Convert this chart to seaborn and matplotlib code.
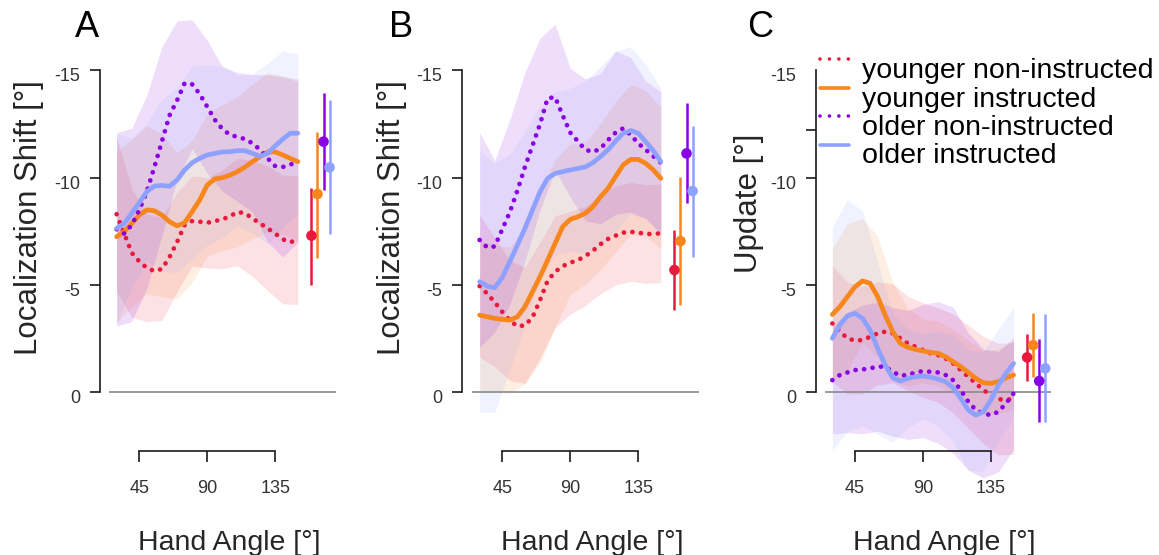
import numpy as np
import matplotlib
matplotlib.use("Agg")
import matplotlib.pyplot as plt
import matplotlib.transforms as mtransforms
import seaborn as sns

# ---------------- data ----------------
angles = list(range(30, 155, 5))          # hand angles of the smoothed curves
band_angles = list(range(30, 155, 10))    # hand angles of the confidence bands
groups = ["younger non-instructed", "younger instructed",
          "older non-instructed", "older instructed"]
colors = ["#E8193C", "#F7861C", "#8A00E6", "#8FA1FF"]
dotted = [True, False, True, False]
dot_angles = [159, 163, 167, 171]
y_ticks = [-15, -10, -5, 0]
y_ticklabels = ["-15", "-10", "-5", "0"]
x_ticks = [45, 90, 135]
x_ticklabels = ["45", "90", "135"]

# Panel A : Localization shift (mean curves)
A_yn = [-8.3, -7.4, -6.5, -6.1, -5.8, -5.65, -5.75, -6.3, -7.0, -7.8, -7.98, -7.95, -7.9,
        -7.98, -8.06, -8.2, -8.4, -8.35, -8.1, -7.87, -7.64, -7.4, -7.13, -7.0, -7.1]
A_yi = [-7.25, -7.48, -7.87, -8.26, -8.5, -8.46, -8.26, -7.95, -7.76, -7.9, -8.42, -8.96, -9.66,
        -9.94, -10.0, -10.12, -10.28, -10.5, -10.75, -10.98, -11.2, -11.2, -11.06, -10.9, -10.75]
A_on = [-7.6, -7.4, -7.8, -8.5, -9.35, -10.5, -11.7, -12.9, -13.6, -14.4, -14.35, -13.9, -13.3,
        -12.7, -12.27, -12.0, -11.9, -11.8, -11.6, -11.3, -10.9, -10.54, -10.5, -10.6, -10.8]
A_oi = [-7.64, -7.87, -8.34, -8.84, -9.35, -9.61, -9.64, -9.6, -9.89, -10.36, -10.7, -10.9, -11.06,
        -11.13, -11.2, -11.21, -11.26, -11.26, -11.13, -11.0, -11.13, -11.48, -11.8, -12.07, -12.07]
# band half widths
A_yn_ci = [3.6, 3.0, 2.5, 2.4, 2.3, 2.1, 2.1, 2.3, 2.5, 2.7, 2.9, 3.0, 3.0]
A_yi_ci = [4.0, 3.9, 3.9, 3.8, 3.4, 3.3, 3.3, 3.4, 3.5, 3.6, 3.7, 3.7, 3.7]
A_on_ci = [4.5, 4.5, 4.5, 4.4, 3.7, 3.0, 3.1, 2.9, 3.0, 3.2, 3.9, 4.2, 3.8]
A_oi_ci = [4.4, 3.5, 3.2, 4.0, 4.3, 4.5, 4.2, 4.0, 3.5, 3.7, 4.2, 4.1, 3.7]
# overall means with intervals
A_pt = [-7.3, -9.24, -11.68, -10.48]
A_pt_lo = [-9.5, -12.14, -13.93, -13.6]
A_pt_hi = [-5.0, -6.26, -9.43, -7.38]

# Panel B : Localization shift
B_yn = [-4.95, -4.6, -4.2, -3.75, -3.35, -3.08, -3.12, -3.5, -4.3, -5.2, -5.62, -5.88, -6.04,
        -6.16, -6.35, -6.6, -6.9, -7.15, -7.3, -7.44, -7.48, -7.44, -7.38, -7.38, -7.41]
B_yi = [-3.6, -3.52, -3.45, -3.4, -3.37, -3.52, -3.99, -4.69, -5.39, -6.16, -6.94, -7.72, -8.06,
        -8.18, -8.34, -8.65, -9.11, -9.5, -10.05, -10.59, -10.85, -10.85, -10.67, -10.36, -9.97]
B_on = [-7.1, -6.75, -6.8, -7.6, -8.4, -9.4, -10.5, -11.5, -12.5, -13.7, -13.75, -12.9, -12.1,
        -11.7, -11.3, -11.2, -11.35, -11.75, -12.1, -12.3, -12.0, -11.6, -11.3, -11.0, -10.7]
B_oi = [-5.16, -4.95, -4.88, -5.35, -6.1, -6.86, -7.64, -8.5, -9.35, -9.97, -10.2, -10.28, -10.36,
        -10.43, -10.5, -10.7, -10.98, -11.3, -11.7, -12.07, -12.2, -12.07, -11.68, -11.26, -10.75]
B_yn_ci = [3.3, 3.0, 2.8, 2.7, 2.7, 2.6, 2.4, 2.3, 2.3, 2.3, 2.3, 2.3, 2.3]
B_yi_ci = [3.5, 3.4, 3.4, 3.6, 4.0, 3.9, 3.5, 3.3, 3.4, 3.5, 3.5, 3.4, 3.3]
B_on_ci = [5.0, 4.0, 4.3, 4.4, 4.0, 3.4, 3.0, 3.3, 3.5, 3.8, 3.6, 3.2, 3.3]
B_oi_ci = [6.1, 5.8, 5.0, 4.5, 4.0, 3.8, 3.8, 4.0, 4.2, 4.2, 3.9, 3.6, 3.4]
B_pt = [-5.7, -7.05, -11.13, -9.38]
B_pt_lo = [-7.56, -10.05, -13.5, -12.4]
B_pt_hi = [-3.84, -4.07, -8.8, -6.32]

# Panel C : Update
C_yn = [-3.21, -2.83, -2.52, -2.41, -2.44, -2.59, -2.75, -2.83, -2.75, -2.52, -2.28, -2.13, -1.97,
        -1.82, -1.74, -1.58, -1.35, -1.04, -0.73, -0.42, -0.11, 0.12, 0.31, 0.36, 0.28]
C_yi = [-3.63, -3.99, -4.46, -4.92, -5.19, -5.08, -4.46, -3.6, -2.83, -2.28, -2.1, -2.0, -1.93,
        -1.86, -1.82, -1.66, -1.43, -1.2, -0.93, -0.65, -0.45, -0.42, -0.5, -0.68, -0.81]
C_on = [-0.57, -0.81, -0.93, -1.04, -1.07, -1.12, -1.2, -1.2, -0.96, -0.78, -0.81, -0.93, -0.99,
        -0.96, -0.93, -0.81, -0.57, -0.11, 0.43, 0.82, 0.98, 1.06, 0.9, 0.51, 0.05]
C_oi = [-2.52, -3.14, -3.57, -3.68, -3.45, -2.9, -2.05, -1.27, -0.68, -0.53, -0.65, -0.73, -0.76,
        -0.71, -0.62, -0.5, -0.22, 0.28, 0.82, 1.06, 0.9, 0.36, -0.34, -0.89, -1.35]
C_yn_ci = [2.7, 2.6, 2.5, 2.4, 2.3, 2.2, 2.2, 2.2, 2.3, 2.4, 2.5, 2.6, 2.6]
C_yi_ci = [3.1, 3.4, 2.9, 2.8, 2.3, 1.8, 1.5, 1.5, 1.5, 1.5, 1.5, 1.5, 1.6]
C_on_ci = [2.5, 2.8, 3.0, 3.0, 3.0, 3.0, 3.1, 3.3, 3.4, 3.2, 3.0, 2.8, 2.6]
C_oi_ci = [5.2, 5.4, 5.0, 4.0, 3.0, 2.3, 2.0, 2.2, 2.5, 2.8, 2.8, 2.6, 2.6]
C_pt = [-1.63, -2.2, -0.53, -1.12]
C_pt_lo = [-2.7, -3.68, -2.48, -3.63]
C_pt_hi = [-0.53, -0.73, 1.4, 1.4]

# ---------------- style ----------------
sns.set_theme(style="white")
plt.rcParams["font.family"] = ["Liberation Sans", "DejaVu Sans"]

W, H = 1159, 555
fig = plt.figure(figsize=(W / 100, H / 100), dpi=100)
fig.patch.set_facecolor("white")

PXPU = 21.47      # pixels per y unit
Y0 = 392.4        # pixel row of y = 0
SX = 1.51         # pixels per degree
AX_TOP, AX_BOT = 5, 500

INK = "#1a1a1a"
DOT_STYLE = (0, (0.01, 1.8))


def add_panel(x45_px, spine_px):
    left = x45_px - 55
    ax = fig.add_axes([left / W, 1 - AX_BOT / H, 270 / W, (AX_BOT - AX_TOP) / H])
    ax.set_xlim(45 - 55 / SX, 45 + 215 / SX)
    ax.set_ylim((AX_BOT - Y0) / PXPU, (AX_TOP - Y0) / PXPU)
    ax.set_facecolor("none")
    ax.patch.set_alpha(0)
    for s in ["top", "right"]:
        ax.spines[s].set_visible(False)
    ax.spines["left"].set_position(("data", 45 + (spine_px - x45_px) / SX))
    ax.spines["left"].set_bounds(-15, 0)
    ax.spines["bottom"].set_position(("data", (451 - Y0) / PXPU))
    ax.spines["bottom"].set_bounds(45, 135)
    for s in ["left", "bottom"]:
        ax.spines[s].set_color(INK)
        ax.spines[s].set_linewidth(1.2)
    ax.set_yticks(y_ticks)
    ax.set_yticklabels(y_ticklabels)
    ax.set_xticks(x_ticks)
    ax.set_xticklabels(x_ticklabels)
    ax.tick_params(axis="y", direction="out", length=7.2, width=1.2, color=INK,
                   pad=7, labelsize=13, labelcolor="#333333", left=True)
    ax.tick_params(axis="x", direction="out", length=8, width=1.2, color=INK,
                   pad=13, labelsize=13, labelcolor="#333333", bottom=True)
    off = mtransforms.ScaledTranslation(0, -0.045, fig.dpi_scale_trans)
    for lab in ax.get_yticklabels():
        lab.set_transform(lab.get_transform() + off)
    ax.grid(False)
    return ax


def draw(ax, means, cis, pt, pt_lo, pt_hi):
    for i in range(4):
        m = np.array(means[i])[::2]
        hw = np.array(cis[i])
        ax.fill_between(band_angles, m - hw, m + hw, color=colors[i], alpha=0.13, lw=0)
    ax.hlines(0, 25, 175, color="#8a8a8a", lw=1.2)
    for i in range(4):
        sns.lineplot(x=angles, y=means[i], ax=ax, color=colors[i], lw=3.4, legend=False)
        ln = ax.lines[-1]
        if dotted[i]:
            ln.set_linestyle(DOT_STYLE)
            ln.set_dash_capstyle("round")
        else:
            ln.set_solid_capstyle("round")
            ln.set_solid_joinstyle("round")
    ax.vlines(dot_angles, pt_lo, pt_hi, colors=colors, lw=1.8)
    sns.scatterplot(x=dot_angles, y=pt, hue=groups, palette=colors, s=58,
                    edgecolor="none", ax=ax, legend=False, zorder=5)
    ax.set_xlabel("")
    ax.set_ylabel("")


axA = add_panel(139.3, 100)
draw(axA, [A_yn, A_yi, A_on, A_oi], [A_yn_ci, A_yi_ci, A_on_ci, A_oi_ci], A_pt, A_pt_lo, A_pt_hi)
axB = add_panel(502.3, 461.7)
draw(axB, [B_yn, B_yi, B_on, B_oi], [B_yn_ci, B_yi_ci, B_on_ci, B_oi_ci], B_pt, B_pt_lo, B_pt_hi)
axC = add_panel(855, 815.7)
draw(axC, [C_yn, C_yi, C_on, C_oi], [C_yn_ci, C_yi_ci, C_on_ci, C_oi_ci], C_pt, C_pt_lo, C_pt_hi)
# panel C: first tick mark hidden, stray minor tick as in the original
axC.yaxis.get_major_ticks()[0].tick1line.set_visible(False)
axC.set_yticks([-12.22], minor=True)
axC.tick_params(axis="y", which="minor", direction="out", length=7.2, width=1.2, color=INK, left=True)


def ftext(xp, yp, s, **kw):
    fig.text(xp / W, 1 - yp / H, s, **kw)


# panel letters
for lx, letter in [(87, "A"), (401, "B"), (760, "C")]:
    ftext(lx, 37, letter, fontsize=26, ha="center", va="baseline", color="black")

# axis titles
ftext(29, 218, "Localization Shift [°]", fontsize=22.5, rotation=90, ha="center", va="center")
ftext(392, 218, "Localization Shift [°]", fontsize=22.5, rotation=90, ha="center", va="center")
ftext(749, 203, "Update [°]", fontsize=22.5, rotation=90, ha="center", va="center")
for cx in [229, 592, 944]:
    ftext(cx, 549.5, "Hand Angle [°]", fontsize=20.5, ha="center", va="baseline")

# legend (panel C)
lax = fig.add_axes([0, 0, 1, 1], zorder=10)
lax.set_xlim(0, W)
lax.set_ylim(H, 0)
lax.axis("off")
for i, g in enumerate(groups):
    ly = 59 + 28.7 * i
    ln, = lax.plot([820, 849], [ly, ly], color=colors[i], lw=2.6)
    if dotted[i]:
        ln.set_linestyle((0, (0.01, 2.6)))
        ln.set_dash_capstyle("round")
    lax.text(861.5, 78.5 + 28.2 * i, g, fontsize=20.5, ha="left", va="baseline", color="black")

fig.savefig("out.png", dpi=100, facecolor="white")
